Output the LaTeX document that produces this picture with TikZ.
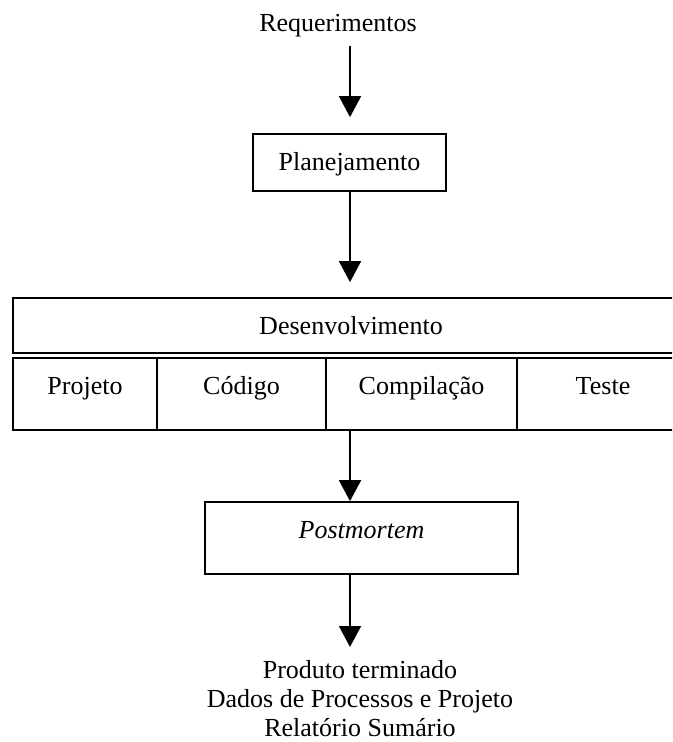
\documentclass[tikz,border=0pt]{standalone}
\usepackage{fontspec}
\setmainfont{Liberation Serif}
\usetikzlibrary{arrows.meta}
\begin{document}
\begin{tikzpicture}[x=0.025cm,y=-0.025cm,line width=1.2pt,
  every node/.style={font=\fontsize{18.5}{20.6}\selectfont,inner sep=0pt},
  caixa/.style={draw,text height=0.9cm},
  seta/.style={-{Triangle[width=0.55cm,length=0.525cm]}}]
\useasboundingbox (0,0) rectangle (672,742);
\clip (0,0) rectangle (672,742);
\coordinate (eixo) at (350,0);

\node[anchor=base] (req) at (338,32) {Requerimentos};
\node[caixa,minimum width=4.825cm,text depth=0.525cm] (plan) at (349.5,162.5) {Planejamento};

\node[caixa,minimum width=16.9cm,text depth=0.475cm] (des) at (351,325.5) {Desenvolvimento};
\node[caixa,minimum width=3.6cm,  text depth=0.9cm] (proj) at (85,394)    {Projeto};
\node[caixa,minimum width=4.225cm,text depth=0.9cm] (cod)  at (241.5,394) {Código};
\node[caixa,minimum width=4.775cm,text depth=0.9cm] (comp) at (421.5,394) {Compilação};
\node[caixa,minimum width=4.3cm,  text depth=0.9cm] (tes)  at (603,394)   {Teste};

\node[caixa,minimum width=7.825cm,text depth=0.9cm] (post) at (361.5,538) {\textit{Postmortem}};

\node[anchor=north,align=center] (prod) at (360,660)
  {Produto terminado\\Dados de Processos e Projeto\\Relatório Sumário};

\draw[seta,shorten <=0.2cm,shorten >=0.4cm] (eixo |- req.south) -- (eixo |- plan.north);
\draw[seta,shorten >=0.375cm] (eixo |- plan.south) -- (eixo |- des.north);
\draw[seta] (eixo |- comp.south) -- (eixo |- post.north);
\draw[seta,shorten >=0.325cm] (eixo |- post.south) -- (eixo |- prod.north);
\end{tikzpicture}
\end{document}
